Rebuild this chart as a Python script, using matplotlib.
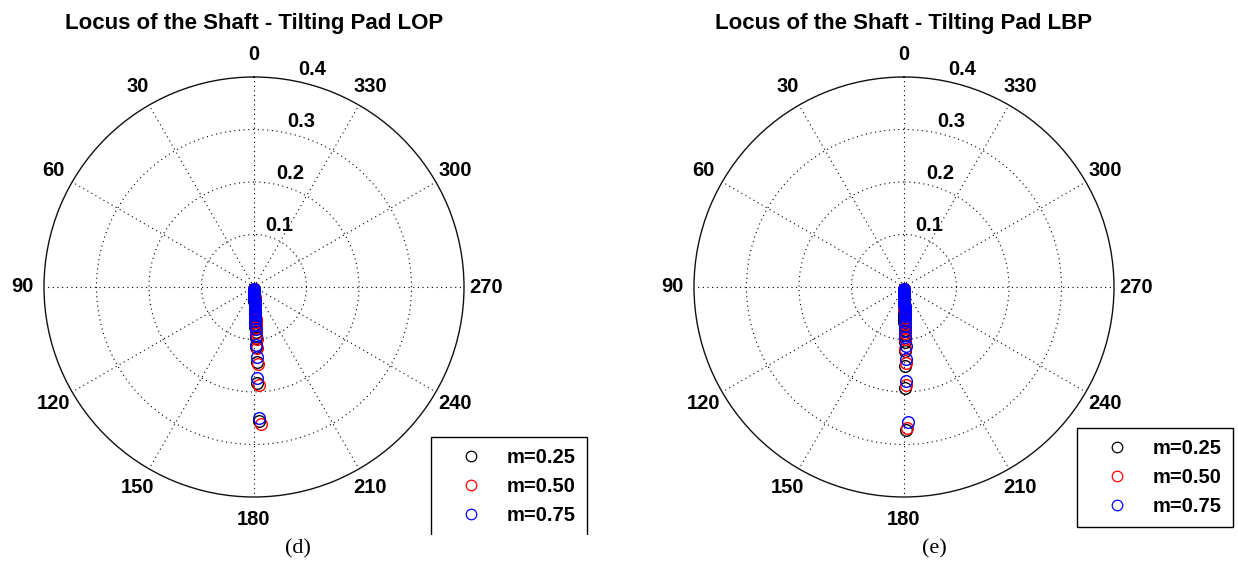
import matplotlib.pyplot as plt
import numpy as np
from matplotlib.lines import Line2D
from matplotlib.patches import Rectangle

plt.rcParams['font.family'] = ['Liberation Sans', 'DejaVu Sans']

W, H = 1238, 568

# shaft centre eccentricity (per speed step) and attitude angle, LOP pads
lop_ecc_m025 = [0.255, 0.183, 0.143, 0.114, 0.098, 0.086, 0.077, 0.070, 0.064, 0.059,
                0.055, 0.052, 0.049, 0.046, 0.043, 0.041, 0.038, 0.036, 0.034, 0.032,
                0.030, 0.028, 0.026, 0.024, 0.022, 0.020, 0.018, 0.016, 0.014, 0.012,
                0.010, 0.008, 0.006, 0.004]
lop_ecc_m050 = [0.261, 0.187, 0.147, 0.117, 0.100, 0.088, 0.079, 0.072, 0.066, 0.061,
                0.057, 0.053, 0.050, 0.047, 0.044, 0.041, 0.039, 0.036, 0.034, 0.032,
                0.030, 0.028, 0.026, 0.024, 0.022, 0.020, 0.018, 0.016, 0.014, 0.012,
                0.010, 0.008, 0.006, 0.004]
lop_ecc_m075 = [0.250, 0.173, 0.134, 0.110, 0.093, 0.081, 0.072, 0.065, 0.059, 0.054,
                0.051, 0.049, 0.047, 0.045, 0.043, 0.041, 0.039, 0.037, 0.035, 0.033,
                0.031, 0.029, 0.027, 0.025, 0.023, 0.021, 0.019, 0.017, 0.015, 0.013,
                0.011, 0.009, 0.007, 0.005, 0.003]
lop_angle = [182.0, 182.8, 182.2]

# same for LBP pads
lbp_ecc_m025 = [0.273, 0.192, 0.150, 0.122, 0.104, 0.091, 0.081, 0.073, 0.067, 0.062,
                0.058, 0.054, 0.051, 0.048, 0.045, 0.042, 0.040, 0.037, 0.035, 0.033,
                0.031, 0.029, 0.027, 0.025, 0.023, 0.021, 0.019, 0.017, 0.015, 0.013,
                0.011, 0.009, 0.007, 0.005]
lbp_ecc_m050 = [0.268, 0.187, 0.145, 0.118, 0.100, 0.088, 0.078, 0.071, 0.065, 0.060,
                0.056, 0.052, 0.049, 0.046, 0.043, 0.041, 0.038, 0.036, 0.034, 0.032,
                0.030, 0.028, 0.026, 0.024, 0.022, 0.020, 0.018, 0.016, 0.014, 0.012,
                0.010, 0.008, 0.006, 0.004]
lbp_ecc_m075 = [0.257, 0.179, 0.138, 0.112, 0.095, 0.083, 0.074, 0.067, 0.061, 0.056,
                0.053, 0.051, 0.049, 0.047, 0.045, 0.043, 0.041, 0.039, 0.037, 0.035,
                0.033, 0.031, 0.029, 0.027, 0.025, 0.023, 0.021, 0.019, 0.017, 0.015,
                0.013, 0.011, 0.009, 0.007, 0.005, 0.003]
lbp_angle = [180.8, 181.2, 181.5]

mass_labels = ['m=0.25', 'm=0.50', 'm=0.75']
mass_colors = ['#000000', '#ff0000', '#0000ff']
angle_ticks = list(range(0, 360, 30))
ring_ticks = [0.1, 0.2, 0.3, 0.4]
r_max = 0.4

TXT = dict(fontsize=14.5, fontweight='bold')


def draw_locus(cx, cy, radius, title, ecc_sets, angles, legend_xy, caption, cap_xy):
    ax = fig.add_axes([(cx - radius) / W, (H - cy - radius) / H,
                       2 * radius / W, 2 * radius / H], projection='polar')
    ax.set_theta_zero_location('N')
    ax.set_theta_direction(1)
    ax.set_ylim(0, r_max)
    ax.set_yticks(ring_ticks[:-1])
    ax.set_xticks(np.deg2rad(angle_ticks))
    ax.set_xticklabels([])
    ax.set_yticklabels([])
    ax.tick_params(length=0)
    ax.grid(True, color='k', linewidth=0.8, linestyle=(0, (1, 3.2)))
    ax.spines['polar'].set_linewidth(1.0)
    ax.spines['polar'].set_color('#111111')

    for a in angle_ticks:
        ax.text(np.deg2rad(a), r_max * 1.105, str(a), ha='center', va='center', **TXT)
    for t in ring_ticks:
        ax.text(np.deg2rad(348), t * 1.0125, f'{t:g}', ha='left', va='bottom', **TXT)

    for ecc, ang, col in zip(ecc_sets, angles, mass_colors):
        th = np.full(len(ecc), np.deg2rad(ang))
        ax.plot(th, ecc, 'o', ms=8.4, mfc='none', mec=col, mew=1.0, clip_on=False)

    handles = [Line2D([], [], ls='none', marker='o', ms=7.6, mfc='none', mec=c, mew=0.9)
               for c in mass_colors]
    leg = ax.legend(handles, mass_labels, loc='upper left',
                    bbox_to_anchor=(legend_xy[0] / W, 1 - legend_xy[1] / H),
                    bbox_transform=fig.transFigure, borderaxespad=0, fancybox=False,
                    edgecolor='k', framealpha=1, numpoints=1,
                    prop=dict(size=14.5, weight='bold'),
                    borderpad=0.55, handlelength=2.9, handletextpad=0.3,
                    labelspacing=0.5)
    leg.get_frame().set_linewidth(1.0)

    fig.text(cx / W, 1 - 24 / H, title, ha='center', va='center', fontsize=16,
             fontweight='bold')
    fig.text(cap_xy[0] / W, 1 - cap_xy[1] / H, caption, ha='center', va='center',
             fontsize=16, family='Liberation Serif', zorder=12)
    return ax


fig = plt.figure(figsize=(W / 100, H / 100), dpi=100)

draw_locus(254, 287, 210, 'Locus of the Shaft - Tilting Pad LOP',
           [lop_ecc_m025, lop_ecc_m050, lop_ecc_m075], lop_angle,
           (431, 437), '(d)', (298, 549))
draw_locus(904, 287, 210, 'Locus of the Shaft - Tilting Pad LBP',
           [lbp_ecc_m025, lbp_ecc_m050, lbp_ecc_m075], lbp_angle,
           (1077, 428), '(e)', (934, 549))

# caption strip under the left panel covers the bottom of its legend
fig.patches.append(Rectangle((420 / W, 0), 190 / W, (H - 535) / H,
                             transform=fig.transFigure, facecolor='white',
                             edgecolor='none', zorder=10))

fig.savefig('out.png', dpi=100)
